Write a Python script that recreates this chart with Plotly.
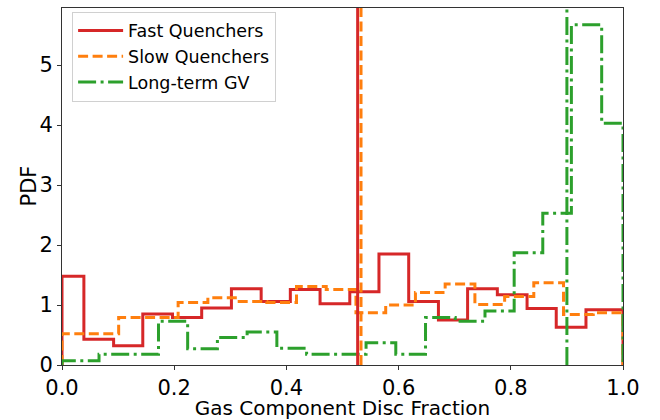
import numpy as np
import plotly.graph_objects as go

# Bin edges and PDF heights
fast_edges = [0.0, 0.039, 0.092, 0.144, 0.197, 0.249, 0.302, 0.355, 0.407, 0.460,
              0.513, 0.565, 0.618, 0.671, 0.723, 0.776, 0.829, 0.881, 0.934, 1.0]
fast_pdf = [1.48, 0.43, 0.32, 0.85, 0.79, 0.95, 1.27, 1.06, 1.26, 1.02,
            1.22, 1.85, 1.06, 0.75, 1.27, 1.17, 0.94, 0.63, 0.92]

slow_edges = [0.0, 0.048, 0.101, 0.154, 0.207, 0.260, 0.312, 0.365, 0.418, 0.471,
              0.524, 0.577, 0.630, 0.683, 0.736, 0.789, 0.841, 0.894, 0.947, 1.0]
slow_pdf = [0.52, 0.52, 0.79, 0.79, 1.04, 1.12, 1.06, 1.04, 1.31, 1.26,
            0.87, 1.00, 1.21, 1.35, 1.01, 1.14, 1.37, 0.84, 0.87]

gv_edges = [0.0, 0.066, 0.119, 0.172, 0.224, 0.277, 0.330, 0.383, 0.436, 0.489,
            0.542, 0.595, 0.648, 0.701, 0.754, 0.806, 0.857, 0.908, 0.962, 1.0]
gv_pdf = [0.07, 0.18, 0.18, 0.73, 0.27, 0.46, 0.55, 0.28, 0.18, 0.18,
          0.37, 0.18, 0.79, 0.73, 0.90, 1.87, 2.53, 5.67, 4.03]

medians = {"Fast Quenchers": 0.527, "Slow Quenchers": 0.533, "Long-term GV": 0.900}

names = ["Fast Quenchers", "Slow Quenchers", "Long-term GV"]
colors = ["#d62728", "#ff7f0e", "#2ca02c"]
dashes = ["solid", "10px,4.5px", "18px,4.5px,3px,4.5px"]
series = [(fast_edges, fast_pdf), (slow_edges, slow_pdf), (gv_edges, gv_pdf)]


def step_outline(edges, vals):
    xs, ys = [edges[0]], [0.0]
    for i, v in enumerate(vals):
        xs += [edges[i], edges[i + 1]]
        ys += [v, v]
    xs.append(edges[-1])
    ys.append(0.0)
    return xs, ys


fig = go.Figure()
for name, col, dsh, (e, v) in zip(names, colors, dashes, series):
    xs, ys = step_outline(e, v)
    fig.add_trace(go.Scatter(x=xs, y=ys, mode="lines", name=name,
                             line=dict(color=col, width=3, dash=dsh)))

ymax = 5.95
for name, col, dsh in zip(names, colors, dashes):
    fig.add_shape(type="line", xref="x", yref="y", x0=medians[name], x1=medians[name],
                  y0=0, y1=ymax, line=dict(color=col, width=3, dash=dsh), layer="above")

fig.add_annotation(text="PDF", textangle=-90, xref="paper", yref="paper",
                   x=-0.0606, y=0.5, xanchor="center", yanchor="middle",
                   showarrow=False, font=dict(size=21))

fig.update_layout(
    width=660, height=420,
    margin=dict(l=62, r=37, t=8, b=55),
    plot_bgcolor="white", paper_bgcolor="white",
    font=dict(family="DejaVu Sans", size=21, color="black"),
    showlegend=True,
    legend=dict(x=0.018, y=0.99, xanchor="left", yanchor="top",
                bgcolor="rgba(255,255,255,0.8)", bordercolor="#d0d0d0", borderwidth=1,
                font=dict(size=17.5), itemwidth=45, tracegroupgap=0),
)
fig.update_xaxes(range=[0, 1], tickvals=[0, 0.2, 0.4, 0.6, 0.8, 1.0],
                 ticktext=["0.0", "0.2", "0.4", "0.6", "0.8", "1.0"],
                 showgrid=False, zeroline=False, showline=True, mirror=True,
                 linecolor="#333", linewidth=1, ticks="outside", ticklen=4,
                 tickcolor="#333", automargin=False, tickfont=dict(size=21),
                 title=dict(text="Gas Component Disc Fraction", font=dict(size=20), standoff=1))
fig.update_yaxes(range=[0, ymax], tickvals=[0, 1, 2, 3, 4, 5],
                 showgrid=False, zeroline=False, showline=True, mirror=True,
                 linecolor="#333", linewidth=1, ticks="outside", ticklen=4,
                 tickcolor="#333", automargin=False, tickfont=dict(size=21))

fig.write_html("out.html", config={"displayModeBar": False},
               post_script="document.body.style.margin='0';document.body.style.padding='0';")
